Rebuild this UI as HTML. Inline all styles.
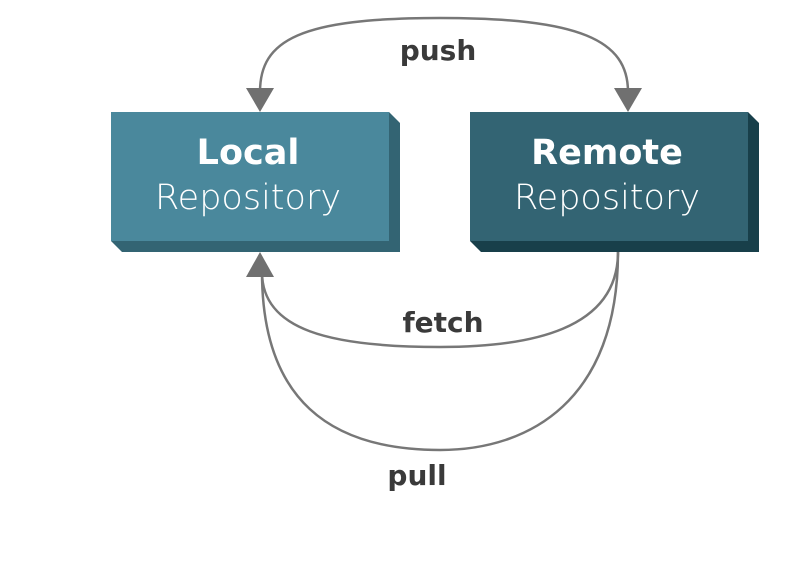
<!DOCTYPE html>
<html><head><style>
html,body{margin:0;padding:0;background:#fff;width:796px;height:584px;overflow:hidden}
</style></head><body>
<svg width="796" height="584" viewBox="0 0 796 584" xmlns="http://www.w3.org/2000/svg">
<g fill="none" stroke="#777" stroke-width="2.5">
<path d="M260,92 C260,40 300,18 440,18 C580,18 628,40 628,92"/>
<path d="M618,252 C618,330 530,347 440,347 C330,347 262,330 262,272"/>
<path d="M618,252 C618,400 530,450 440,450 C330,450 262,400 262,272"/>
</g>
<g fill="#707070">
<polygon points="246,88 274,88 260,112"/>
<polygon points="614,88 642,88 628,112"/>
<polygon points="246,277 274,277 260,252"/>
</g>
<polygon points="389,112 400,123 400,252 122,252 111,241 389,241" fill="#336473"/>
<rect x="111" y="112" width="278" height="129" fill="#4a889c"/>
<polygon points="748,112 759,123 759,252 481,252 470,241 748,241" fill="#183f4a"/>
<rect x="470" y="112" width="278" height="129" fill="#336473"/>
<g font-family="'DejaVu Sans','Liberation Sans',sans-serif" fill="#fff" text-anchor="middle">
<text x="248" y="164" font-size="35" font-weight="bold">Local</text>
<text x="248" y="209" font-size="35" font-weight="300">Repository</text>
<text x="607" y="164" font-size="35" font-weight="bold">Remote</text>
<text x="607" y="209" font-size="35" font-weight="300">Repository</text>
</g>
<g font-family="'DejaVu Sans','Liberation Sans',sans-serif" fill="#3a3a3a" font-weight="bold" font-size="28" text-anchor="middle">
<text x="438" y="60">push</text>
<text x="443" y="332">fetch</text>
<text x="417" y="485">pull</text>
</g>
</svg>
</body></html>
